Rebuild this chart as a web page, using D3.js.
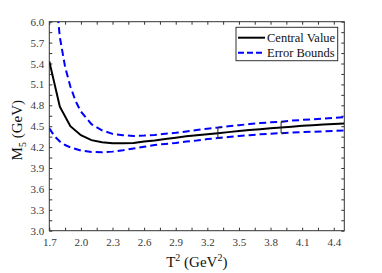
<!DOCTYPE html>
<html>
<head>
<meta charset="utf-8">
<script src="https://cdn.jsdelivr.net/npm/d3@7"></script>
<style>
  body { margin: 0; background: #fff; }
  svg, svg text { font-family: "Liberation Serif", "Times New Roman", serif; }
  .tick text { fill: #3a3a3a; font-size: 11px; }
  .tick line { stroke: #333; }
</style>
</head>
<body>
<div id="viz_container"></div>
<script>
// data
const centralT2 = [1.7, 1.8, 1.9, 2.0, 2.1, 2.2, 2.3, 2.4, 2.5, 2.6, 2.7, 2.8, 2.9, 3.0, 3.1, 3.2, 3.3, 3.4, 3.5, 3.6, 3.7, 3.8, 3.9, 4.0, 4.1, 4.2, 4.3, 4.4, 4.5];
const centralM = [5.43, 4.78, 4.50, 4.37, 4.30, 4.27, 4.255, 4.255, 4.26, 4.28, 4.295, 4.315, 4.335, 4.355, 4.37, 4.385, 4.40, 4.415, 4.43, 4.445, 4.457, 4.47, 4.48, 4.493, 4.505, 4.515, 4.525, 4.533, 4.54];

const upperT2 = [1.75, 1.8, 1.85, 1.9, 1.95, 2.0, 2.1, 2.2, 2.3, 2.4, 2.5, 2.6, 2.7, 2.8, 2.9, 3.0, 3.1, 3.2, 3.3, 3.4, 3.5, 3.6, 3.7, 3.8, 3.9, 4.0, 4.1, 4.2, 4.3, 4.4, 4.5];
const upperM = [6.55, 5.78, 5.35, 5.07, 4.86, 4.71, 4.53, 4.44, 4.39, 4.37, 4.36, 4.365, 4.375, 4.39, 4.405, 4.425, 4.445, 4.465, 4.48, 4.50, 4.515, 4.53, 4.545, 4.555, 4.565, 4.58, 4.59, 4.60, 4.61, 4.62, 4.63];

const lowerT2 = [1.7, 1.75, 1.8, 1.85, 1.9, 2.0, 2.1, 2.2, 2.3, 2.4, 2.5, 2.6, 2.7, 2.8, 2.9, 3.0, 3.1, 3.2, 3.3, 3.4, 3.5, 3.6, 3.7, 3.8, 3.9, 4.0, 4.1, 4.2, 4.3, 4.4, 4.5];
const lowerM = [4.47, 4.355, 4.28, 4.23, 4.195, 4.15, 4.13, 4.125, 4.135, 4.155, 4.18, 4.205, 4.23, 4.245, 4.26, 4.28, 4.295, 4.315, 4.33, 4.345, 4.36, 4.37, 4.383, 4.393, 4.40, 4.408, 4.415, 4.42, 4.426, 4.432, 4.437];

// Borel window markers
const windowT2 = [3.3, 3.9];

const xTickLabels = [1.7, 2.0, 2.3, 2.6, 2.9, 3.2, 3.5, 3.8, 4.1, 4.4];
const yTickLabels = [3.0, 3.3, 3.6, 3.9, 4.2, 4.5, 4.8, 5.1, 5.4, 5.7, 6.0];

const legendNames = ["Central Value", "Error Bounds"];

const FONT = '"Liberation Serif", "Times New Roman", serif';

// set the dimensions and margins of the graph
const W = 382, H = 273;
const margin = {top: 21.7, right: 37.7, bottom: 42.3, left: 49.3};
const width = W - margin.left - margin.right;
const height = H - margin.top - margin.bottom;

const svg = d3.select("#viz_container")
  .append("svg")
    .attr("width", W)
    .attr("height", H)
    .attr("font-family", FONT)
  .append("g")
    .attr("transform", `translate(${margin.left},${margin.top})`);

const xScale = d3.scaleLinear().domain([1.7, 4.5]).range([0, width]);
const yScale = d3.scaleLinear().domain([3.0, 6.0]).range([height, 0]);

const xMinor = d3.range(0, 19).map(i => +(1.7 + i * 0.15).toFixed(2));
const yMinor = d3.range(0, 21).map(i => +(3.0 + i * 0.15).toFixed(2));
const isLabel = (arr, v) => arr.some(a => Math.abs(a - v) < 1e-6);

// axes (ticks inward on all four sides)
svg.append("g")
  .attr("transform", `translate(0,${height})`)
  .call(d3.axisBottom(xScale).tickValues(xMinor).tickSize(-3).tickPadding(8)
    .tickFormat(d => isLabel(xTickLabels, d) ? d3.format(".1f")(d) : ""))
  .call(g => g.select(".domain").remove())
  .attr("font-family", FONT).attr("font-size", 11);

svg.append("g")
  .call(d3.axisTop(xScale).tickValues(xMinor).tickSize(-3).tickFormat(""))
  .call(g => g.select(".domain").remove());

svg.append("g")
  .call(d3.axisLeft(yScale).tickValues(yMinor).tickSize(-3).tickPadding(5)
    .tickFormat(d => isLabel(yTickLabels, d) ? d3.format(".1f")(d) : ""))
  .call(g => g.select(".domain").remove())
  .attr("font-family", FONT).attr("font-size", 11);

svg.append("g")
  .attr("transform", `translate(${width},0)`)
  .call(d3.axisRight(yScale).tickValues(yMinor).tickSize(-3).tickFormat(""))
  .call(g => g.select(".domain").remove());

// frame
svg.append("rect")
  .attr("width", width)
  .attr("height", height)
  .attr("fill", "none")
  .attr("stroke", "#333")
  .attr("stroke-width", 1);

// clip
svg.append("clipPath").attr("id", "clip")
  .append("rect").attr("width", width).attr("height", height);

const line = d3.line()
  .x(d => xScale(d[0]))
  .y(d => yScale(d[1]));

const plot = svg.append("g").attr("clip-path", "url(#clip)");

plot.append("path")
  .datum(d3.zip(upperT2, upperM))
  .attr("d", line)
  .attr("fill", "none")
  .attr("stroke", "#0000ff")
  .attr("stroke-width", 2)
  .attr("stroke-dasharray", "7,4");

plot.append("path")
  .datum(d3.zip(lowerT2, lowerM))
  .attr("d", line)
  .attr("fill", "none")
  .attr("stroke", "#0000ff")
  .attr("stroke-width", 2)
  .attr("stroke-dasharray", "7,4");

plot.append("path")
  .datum(d3.zip(centralT2, centralM))
  .attr("d", line)
  .attr("fill", "none")
  .attr("stroke", "#000")
  .attr("stroke-width", 2);

// window brackets between the bounds
const valueAt = (xs, ys, x) => ys[xs.findIndex(v => Math.abs(v - x) < 1e-6)];
plot.selectAll(".bracket")
  .data(windowT2)
  .join("path")
    .attr("class", "bracket")
    .attr("d", t => {
      const x = xScale(t);
      const y1 = yScale(valueAt(upperT2, upperM, t));
      const y2 = yScale(valueAt(lowerT2, lowerM, t));
      return `M${x + 4},${y1}H${x}V${y2}H${x + 4}`;
    })
    .attr("fill", "none")
    .attr("stroke", "#222")
    .attr("stroke-width", 1);

// legend
const lg = svg.append("g").attr("transform", `translate(${236 - margin.left},${27.3 - margin.top})`);
lg.append("rect")
  .attr("width", 101.7)
  .attr("height", 33.4)
  .attr("fill", "#fff")
  .attr("stroke", "#333")
  .attr("stroke-width", 1);

lg.selectAll(".lgline")
  .data(legendNames)
  .join("line")
    .attr("x1", 2).attr("x2", 29)
    .attr("y1", (d, i) => 10.4 + i * 15)
    .attr("y2", (d, i) => 10.4 + i * 15)
    .attr("stroke", (d, i) => i === 0 ? "#000" : "#0000ff")
    .attr("stroke-width", 2)
    .attr("stroke-dasharray", (d, i) => i === 0 ? null : "6,3");

lg.selectAll(".lgtext")
  .data(legendNames)
  .join("text")
    .attr("x", 31)
    .attr("y", (d, i) => 14.3 + i * 15)
    .attr("font-size", "12.5px")
    .attr("fill", "#111")
  .text(d => d);

// X axis label
const xl = svg.append("text")
  .attr("x", width / 2)
  .attr("y", height + 36)
  .attr("text-anchor", "middle")
  .attr("font-size", "15px")
  .attr("fill", "#111");
xl.append("tspan").text("T");
xl.append("tspan").attr("dy", -6).attr("font-size", "10px").text("2");
xl.append("tspan").attr("dy", 6).text(" (GeV");
xl.append("tspan").attr("dy", -6).attr("font-size", "10px").text("2");
xl.append("tspan").attr("dy", 6).text(")");

// Y axis label
const yl = svg.append("text")
  .attr("transform", `translate(${22 - margin.left},${height / 2 + 4}) rotate(-90)`)
  .attr("text-anchor", "middle")
  .attr("font-size", "15px")
  .attr("fill", "#111");
yl.append("tspan").text("M");
yl.append("tspan").attr("dy", 4).attr("font-size", "10px").text("5");
yl.append("tspan").attr("dy", -4).text(" (GeV)");
</script>
</body>
</html>
